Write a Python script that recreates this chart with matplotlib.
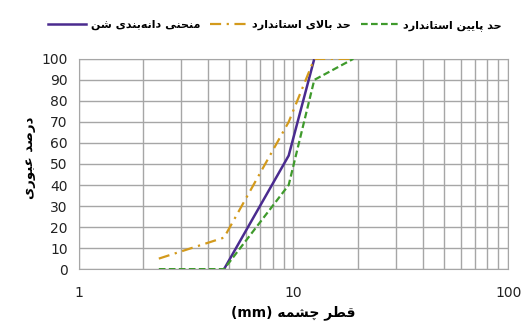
import matplotlib
matplotlib.use("Agg")
import matplotlib.pyplot as plt
from matplotlib.ticker import FixedLocator, NullFormatter

# داده‌های دانه‌بندی شن
sieve_mm = [2.36, 4.75, 9.5, 12.5, 19]
upper_limit = [5, 15, 70, 100, 100]
lower_limit = [0, 0, 40, 90, 100]
sample_mm = [4.75, 9.5, 12.5]
sample_pass = [0, 54, 100]

y_ticks = list(range(0, 101, 10))
x_ticks = [1, 10, 100]

# شکل‌های حروف: جدا، پایانی، آغازی، میانی (حروف راست‌چسب فقط دو شکل دارند)
FORMS = {
    'ا': '\uFE8D\uFE8E',
    'ب': '\uFE8F\uFE90\uFE91\uFE92',
    'ت': '\uFE95\uFE96\uFE97\uFE98',
    'ح': '\uFEA1\uFEA2\uFEA3\uFEA4',
    'د': '\uFEA9\uFEAA',
    'ر': '\uFEAD\uFEAE',
    'س': '\uFEB1\uFEB2\uFEB3\uFEB4',
    'ش': '\uFEB5\uFEB6\uFEB7\uFEB8',
    'ص': '\uFEB9\uFEBA\uFEBB\uFEBC',
    'ط': '\uFEC1\uFEC2\uFEC3\uFEC4',
    'ع': '\uFEC9\uFECA\uFECB\uFECC',
    'ق': '\uFED5\uFED6\uFED7\uFED8',
    'ل': '\uFEDD\uFEDE\uFEDF\uFEE0',
    'م': '\uFEE1\uFEE2\uFEE3\uFEE4',
    'ن': '\uFEE5\uFEE6\uFEE7\uFEE8',
    'ه': '\uFEE9\uFEEA\uFEEB\uFEEC',
    'و': '\uFEED\uFEEE',
    'پ': '\uFB56\uFB57\uFB58\uFB59',
    'چ': '\uFB7A\uFB7B\uFB7C\uFB7D',
    'ی': '\uFBFC\uFBFD\uFBFE\uFBFF',
}


def fa(text):
    # اتصال حروف و چیدن از راست به چپ
    out = []
    i = 0
    n = len(text)
    while i < n:
        c = text[i]
        if c not in FORMS:
            if c != '\u200c':
                out.append(c)
            i += 1
            continue
        prev = text[i - 1] if i > 0 else None
        jp = prev in FORMS and len(FORMS[prev]) == 4
        if c == 'ل' and i + 1 < n and text[i + 1] == 'ا':
            out.append('\uFEFC' if jp else '\uFEFB')
            i += 2
            continue
        nxt = text[i + 1] if i + 1 < n else None
        jn = len(FORMS[c]) == 4 and nxt in FORMS
        f = FORMS[c]
        if jp and jn:
            out.append(f[3])
        elif jp:
            out.append(f[1])
        elif jn:
            out.append(f[2])
        else:
            out.append(f[0])
        i += 1
    return ''.join(reversed(out))


fig = plt.figure(figsize=(5.25, 3.27), dpi=100)
ax = fig.add_axes([0.150, 0.177, 0.818, 0.643])

grid_c = '#a6a6a6'
ax.plot(sample_mm, sample_pass, color='#4a2b8f', lw=1.8, zorder=3,
        label=fa('منحنی دانه‌بندی شن'))
ax.plot(sieve_mm, upper_limit, color='#d39a1c', lw=1.6, ls='-.', zorder=4,
        dashes=(5, 2.5, 1, 2.5), label=fa('حد بالای استاندارد'))
ax.plot(sieve_mm, lower_limit, color='#3f9a2c', lw=1.6, ls='--', zorder=4,
        dashes=(3, 1.5), label=fa('حد پایین استاندارد'))

ax.set_xscale('log')
ax.set_xlim(1, 100)
ax.set_ylim(0, 100)
ax.xaxis.set_major_locator(FixedLocator(x_ticks))
ax.set_xticklabels([str(v) for v in x_ticks])
ax.xaxis.set_minor_formatter(NullFormatter())
ax.set_yticks(y_ticks)
ax.grid(True, which='both', color=grid_c, lw=1)
ax.tick_params(which='both', length=0, labelsize=10, colors='#222222')
ax.tick_params(axis='x', pad=12)
ax.tick_params(axis='y', pad=8)
for s in ax.spines.values():
    s.set_color(grid_c)

ax.set_xlabel(' (mm) '.join(['', fa('قطر چشمه')]).strip(), fontsize=10,
              fontweight='bold', labelpad=4)
ax.set_ylabel(fa('درصد عبوری'), fontsize=9.5, fontweight='bold')
ax.yaxis.set_label_coords(-0.10, 0.53)

fig.legend(loc='center', bbox_to_anchor=(0.524, 0.922), ncol=3,
           frameon=False, handlelength=3.4, handletextpad=0.4,
           columnspacing=0.9, prop={'weight': 'bold', 'size': 8})

fig.savefig('out.png', dpi=100)
